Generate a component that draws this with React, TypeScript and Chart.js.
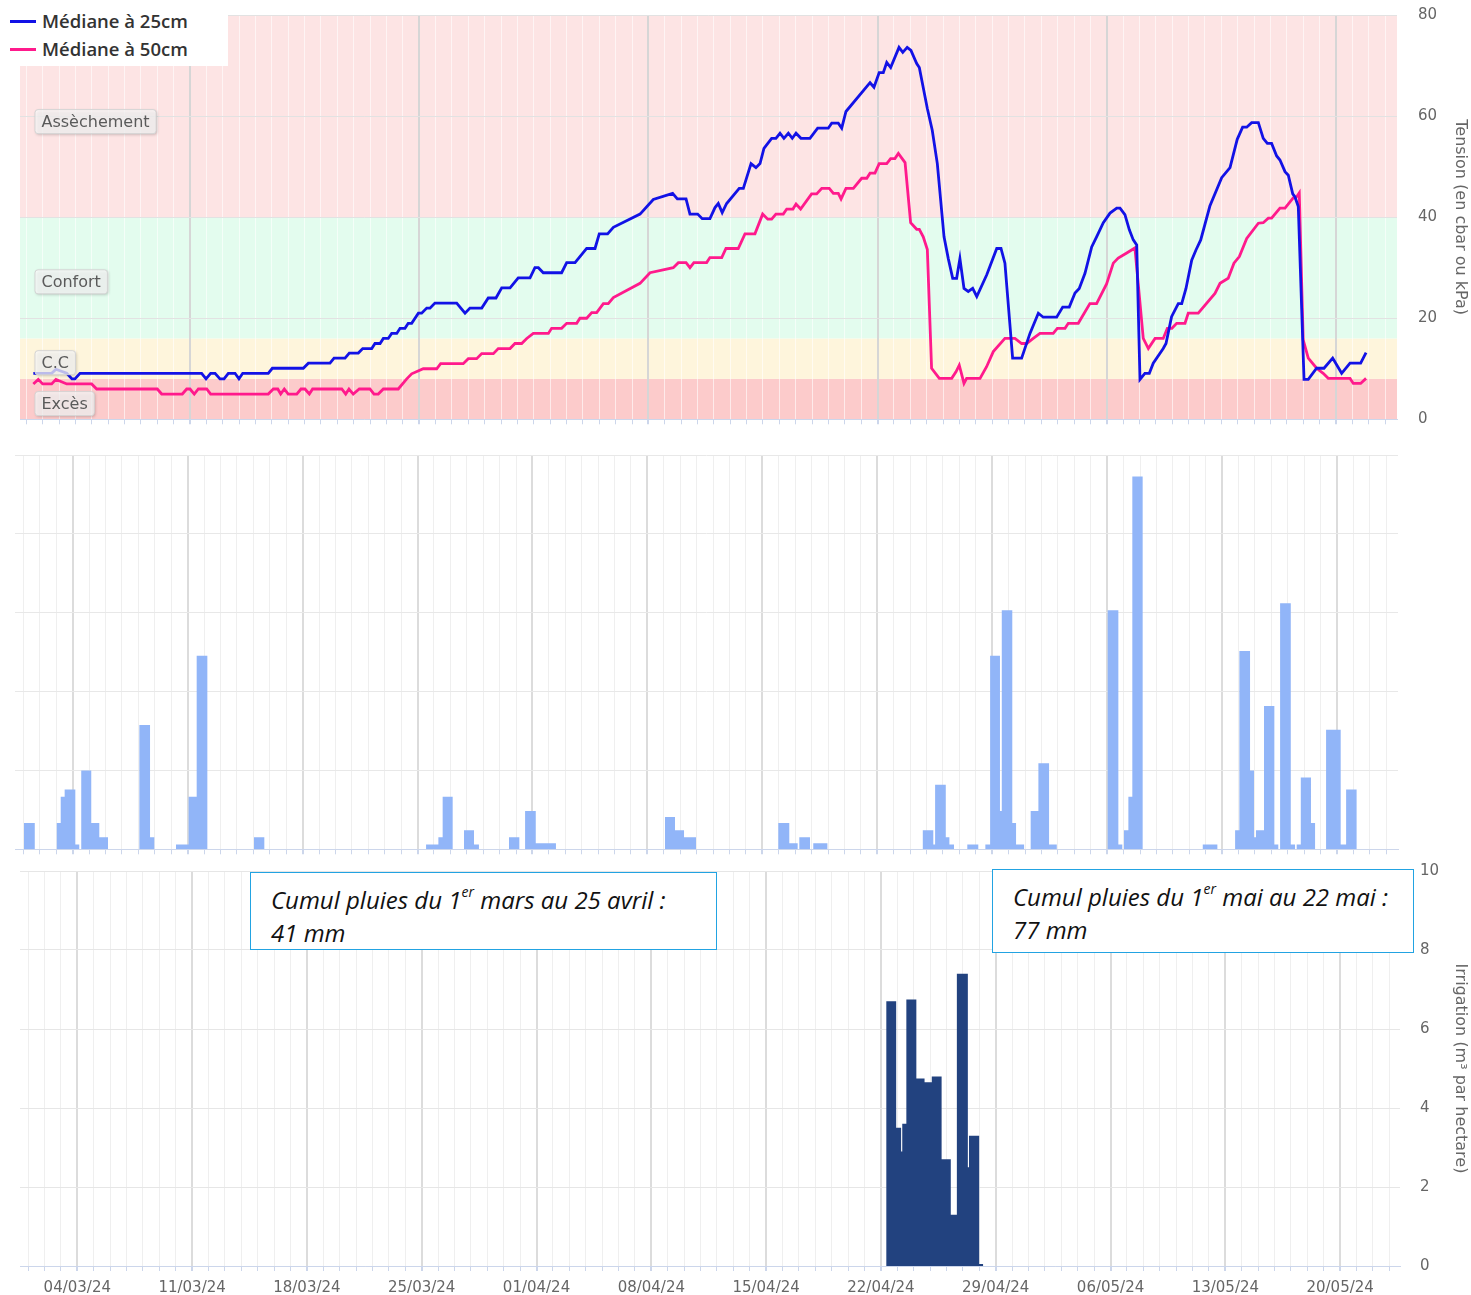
import React, { useEffect, useRef } from 'react';
import { Chart, registerables } from 'chart.js';

Chart.register(...registerables);

const FONT = "'DejaVu Sans', sans-serif";
Chart.defaults.font.family = FONT;

// ---------- x axis (days counted from 01/03/24 = day 0) ----------
const xLabelDays = [3, 10, 17, 24, 31, 38, 45, 52, 59, 66, 73, 80];
const xLabels = ['04/03/24', '11/03/24', '18/03/24', '25/03/24', '01/04/24', '08/04/24', '15/04/24', '22/04/24', '29/04/24', '06/05/24', '13/05/24', '20/05/24'];
const dayGrid = Array.from({ length: 84 }, (_, i) => i);

// ---------- tension zones ----------
const zoneBounds = [0, 8, 16, 40, 80];
const zoneNames = ['Excès', 'C.C', 'Confort', 'Assèchement'];
const zoneFill = ['#fccbcb', '#fef5dc', '#e3fcee', '#fde4e4'];

const tensionTicks = [0, 20, 40, 60, 80];
const irrigationTicks = [0, 2, 4, 6, 8, 10];
const rainGridMm = [0, 3.3, 6.6, 9.9, 13.2, 16.5];

// ---------- series: [day, tension] ----------
const median25cm = [
  [0.43, 9.1], [1.55, 9.1], [1.81, 9.9], [2.47, 9.1], [2.79, 8.0], [2.97, 8.0], [3.28, 9.1], [10.71, 9.1], [10.98, 8.0], [11.26, 9.1],
  [11.53, 9.1], [11.83, 8.0], [12.08, 8.0], [12.34, 9.1], [12.75, 9.1], [12.99, 8.0], [13.22, 9.1], [14.78, 9.1], [15.03, 10.1], [16.92, 10.1],
  [17.23, 11.1], [18.55, 11.1], [18.80, 12.1], [19.47, 12.1], [19.73, 13.1], [20.28, 13.1], [20.55, 14.0], [21.10, 14.0], [21.30, 15.0], [21.61, 15.0],
  [21.81, 16.0], [22.11, 16.0], [22.32, 17.0], [22.63, 17.0], [22.83, 18.0], [23.13, 18.0], [23.33, 19.0], [23.54, 19.0], [23.95, 21.0], [24.15, 21.0],
  [24.46, 22.0], [24.66, 22.0], [24.96, 23.0], [26.29, 23.0], [26.80, 21.0], [27.10, 22.0], [27.82, 22.0], [28.22, 24.0], [28.69, 24.0], [29.04, 26.0],
  [29.55, 26.0], [30.05, 28.0], [30.77, 28.0], [31.07, 30.0], [31.28, 30.0], [31.58, 29.0], [32.70, 29.0], [33.01, 31.0], [33.52, 31.0], [34.23, 33.8],
  [34.74, 33.8], [35.00, 36.7], [35.51, 36.7], [35.86, 38.0], [37.49, 40.6], [38.30, 43.5], [39.48, 44.7], [39.77, 43.6], [40.30, 43.6], [40.54, 40.6],
  [41.01, 40.6], [41.29, 39.7], [41.76, 39.7], [42.07, 41.9], [42.27, 42.7], [42.51, 40.9], [42.78, 42.7], [43.55, 45.7], [43.80, 45.7], [44.27, 50.6],
  [44.57, 49.8], [44.82, 50.6], [45.06, 53.6], [45.53, 55.6], [45.79, 55.6], [46.04, 56.6], [46.28, 55.6], [46.55, 56.6], [46.79, 55.6], [47.02, 56.6],
  [47.32, 55.6], [47.87, 55.6], [48.34, 57.6], [48.99, 57.6], [49.20, 58.6], [49.60, 58.6], [49.81, 57.6], [50.07, 60.9], [51.54, 66.6], [51.78, 65.7],
  [52.10, 68.6], [52.35, 68.6], [52.56, 70.6], [52.80, 69.6], [53.31, 73.6], [53.54, 72.6], [53.81, 73.6], [54.04, 73.0], [54.39, 70.4], [54.55, 69.6],
  [55.04, 61.5], [55.34, 57.2], [55.65, 50.6], [56.06, 36.1], [56.32, 31.8], [56.59, 27.9], [56.83, 27.9], [57.03, 31.8], [57.28, 25.9], [57.54, 25.3],
  [57.81, 25.9], [58.06, 24.3], [58.67, 28.6], [59.28, 33.8], [59.54, 33.8], [59.78, 30.9], [60.25, 12.1], [60.80, 12.1], [61.31, 17.0], [61.82, 21.0],
  [62.12, 20.2], [62.94, 20.2], [63.31, 22.2], [63.71, 22.2], [64.06, 25.0], [64.32, 25.9], [64.67, 28.9], [65.08, 34.1], [65.38, 36.1], [65.79, 38.9],
  [66.20, 40.8], [66.61, 41.8], [66.81, 41.8], [67.11, 40.5], [67.38, 37.5], [67.62, 35.5], [67.83, 34.5], [68.03, 7.9], [68.33, 9.1], [68.60, 9.1],
  [68.84, 11.1], [69.45, 14.0], [69.62, 15.0], [69.96, 20.3], [70.37, 22.9], [70.58, 22.9], [70.84, 25.9], [71.19, 31.5], [71.45, 33.5], [71.74, 35.5],
  [72.30, 42.2], [73.02, 47.8], [73.53, 49.8], [73.97, 55.4], [74.30, 57.8], [74.55, 57.8], [74.85, 58.7], [75.26, 58.7], [75.56, 55.6], [75.81, 54.6],
  [76.07, 54.6], [76.38, 52.1], [76.58, 51.3], [76.89, 49.0], [77.09, 48.3], [77.36, 44.6], [77.50, 44.0], [77.70, 42.1], [78.05, 7.9], [78.31, 7.9],
  [78.82, 10.1], [79.27, 10.1], [79.80, 12.1], [80.35, 9.1], [80.86, 11.1], [81.51, 11.1], [81.84, 13.2],
];

const median50cm = [
  [0.43, 7.0], [0.73, 7.9], [1.00, 7.0], [1.55, 7.0], [1.81, 7.9], [2.47, 7.0], [3.99, 7.0], [4.30, 6.0], [8.00, 6.0], [8.27, 5.0],
  [9.53, 5.0], [9.80, 6.0], [10.00, 6.0], [10.26, 5.0], [10.51, 6.0], [11.02, 6.0], [11.26, 5.0], [14.78, 5.0], [15.09, 6.0], [15.36, 6.0],
  [15.54, 5.0], [15.76, 6.0], [16.00, 5.0], [16.52, 5.0], [16.78, 6.0], [17.02, 6.0], [17.29, 5.0], [17.49, 6.0], [19.27, 6.0], [19.51, 5.0],
  [19.71, 6.0], [19.97, 5.0], [20.34, 6.0], [20.99, 6.0], [21.24, 5.0], [21.50, 5.0], [21.81, 6.0], [22.72, 6.0], [23.24, 8.0], [23.54, 9.0],
  [24.25, 10.0], [25.07, 10.0], [25.31, 11.0], [26.69, 11.0], [27.00, 12.0], [27.51, 12.0], [27.82, 13.0], [28.53, 13.0], [28.83, 14.0], [29.55, 14.0],
  [29.85, 15.0], [30.26, 15.0], [30.57, 16.0], [30.97, 17.0], [31.89, 17.0], [32.09, 18.0], [32.70, 18.0], [33.01, 19.0], [33.62, 19.0], [33.82, 20.0],
  [34.23, 20.0], [34.54, 21.1], [34.84, 21.1], [35.25, 22.9], [35.55, 22.9], [35.86, 24.1], [37.49, 26.9], [38.10, 29.0], [39.52, 30.0], [39.83, 31.0],
  [40.30, 31.0], [40.54, 30.0], [40.78, 31.0], [41.56, 31.0], [41.76, 32.0], [42.48, 32.0], [42.74, 33.8], [43.49, 33.8], [43.90, 36.7], [44.51, 36.7],
  [44.98, 40.6], [45.29, 39.6], [45.53, 39.6], [45.79, 40.6], [46.24, 40.6], [46.45, 41.6], [46.83, 41.6], [47.02, 42.6], [47.30, 41.6], [47.97, 44.6],
  [48.28, 44.6], [48.59, 45.7], [49.05, 45.7], [49.30, 44.7], [49.60, 44.7], [49.77, 43.6], [50.07, 45.7], [50.52, 45.7], [51.03, 47.7], [51.34, 47.7],
  [51.54, 48.7], [51.84, 48.7], [52.10, 50.6], [52.56, 50.6], [52.80, 51.6], [53.06, 51.6], [53.27, 52.6], [53.68, 50.8], [54.02, 38.9], [54.39, 37.6],
  [54.55, 37.6], [54.79, 36.1], [55.04, 33.6], [55.30, 10.1], [55.77, 8.1], [56.53, 8.1], [56.79, 9.4], [56.99, 10.7], [57.28, 7.1], [57.44, 8.1],
  [58.26, 8.1], [58.66, 10.4], [59.07, 13.4], [59.78, 16.0], [60.39, 16.0], [60.80, 15.0], [61.11, 15.0], [61.51, 16.0], [61.92, 17.0], [62.73, 17.0],
  [62.98, 18.0], [63.45, 18.0], [63.65, 19.0], [64.26, 19.0], [64.97, 22.9], [65.38, 22.9], [65.99, 26.8], [66.40, 30.9], [66.70, 31.9], [67.22, 32.9],
  [67.72, 33.9], [68.23, 16.0], [68.54, 14.0], [68.95, 16.0], [69.45, 16.0], [69.70, 18.0], [69.98, 18.0], [70.27, 19.0], [70.78, 19.0], [70.98, 21.0],
  [71.59, 21.0], [72.61, 24.9], [72.92, 26.9], [73.42, 27.9], [73.77, 30.9], [74.10, 32.2], [74.55, 35.8], [75.26, 38.8], [75.56, 38.9], [75.87, 39.8],
  [76.07, 39.8], [76.58, 41.8], [76.89, 41.8], [77.39, 43.8], [77.55, 43.8], [77.76, 44.8], [78.00, 15.7], [78.31, 12.1], [78.82, 10.1], [79.22, 9.1],
  [79.53, 8.1], [80.86, 8.1], [81.06, 7.1], [81.51, 7.1], [81.84, 8.1],
];

// ---------- rain: [start day, end day, mm] ----------
const rainMm = [
  [0.03, 0.69, 1.1], [2.03, 2.27, 1.1], [2.27, 2.51, 2.2], [2.51, 3.16, 2.5], [3.16, 3.40, 0.2], [3.52, 4.13, 3.3], [4.13, 4.62, 1.1], [4.62, 5.15, 0.5],
  [7.06, 7.71, 5.2], [7.71, 7.97, 0.5], [9.29, 10.06, 0.2], [10.06, 10.55, 2.2], [10.55, 11.20, 8.1], [14.04, 14.67, 0.5],
  [24.52, 25.27, 0.2], [25.27, 25.53, 0.5], [25.53, 26.14, 2.2], [26.83, 27.44, 0.8], [27.44, 27.74, 0.2],
  [29.57, 30.20, 0.5], [30.55, 31.20, 1.6], [31.20, 32.43, 0.25],
  [39.07, 39.68, 1.35], [39.68, 40.23, 0.8], [40.23, 40.96, 0.5],
  [45.97, 46.64, 1.1], [46.64, 47.15, 0.25], [47.25, 47.90, 0.5], [48.10, 48.96, 0.25],
  [54.77, 55.41, 0.8], [55.41, 55.52, 0.2], [55.52, 56.17, 2.7], [56.17, 56.39, 0.5], [56.39, 56.67, 0.2], [57.48, 58.15, 0.2],
  [58.58, 58.87, 0.2], [58.87, 59.47, 8.1], [59.47, 59.58, 1.6], [59.58, 60.22, 10.0], [60.22, 60.45, 1.1], [60.45, 60.94, 0.2],
  [61.34, 61.81, 1.6], [61.81, 62.46, 3.6], [62.46, 62.93, 0.2],
  [66.03, 66.68, 10.0], [66.68, 66.92, 0.2], [67.02, 67.29, 0.8], [67.29, 67.53, 2.2], [67.53, 68.16, 15.6], [71.82, 72.71, 0.2],
  [73.79, 74.05, 0.8], [74.05, 74.70, 8.3], [74.70, 74.94, 3.3], [74.94, 75.06, 0.5], [75.06, 75.55, 0.8], [75.55, 76.18, 6.0], [76.18, 76.42, 0.2],
  [76.53, 77.18, 10.3], [77.18, 77.44, 0.2], [77.54, 77.79, 0.2], [77.79, 78.41, 3.0], [78.41, 78.66, 1.1],
  [79.33, 80.22, 5.0], [80.22, 80.55, 0.2], [80.55, 81.20, 2.5],
];

// ---------- irrigation: [start day, end day, m3/ha] ----------
const irrigationM3 = [
  [52.32, 52.93, 6.7], [52.93, 53.23, 3.5], [53.23, 53.30, 2.9], [53.30, 53.55, 3.6], [53.55, 54.16, 6.75], [54.16, 54.66, 4.75],
  [54.66, 55.10, 4.65], [55.10, 55.70, 4.8], [55.70, 56.26, 2.7], [56.26, 56.63, 1.3], [56.63, 57.30, 7.4], [57.30, 57.37, 2.5],
  [57.37, 57.99, 3.3], [57.99, 58.24, 0.05],
];

const BLUE = '#1212e6';
const PINK = '#ff1a8c';
const RAIN = '#91b5f8';
const IRRIG = '#22427f';
const AXIS = '#ccd6eb';

function stepPoints(bars: number[][]) {
  const pts: { x: number; y: number }[] = [];
  bars.forEach((b, i) => {
    pts.push({ x: b[0], y: b[2] });
    const next = bars[i + 1];
    if (!next || next[0] - b[1] > 0.005) pts.push({ x: b[1], y: 0 });
  });
  return pts;
}

function noPad(s: any) {
  s.paddingTop = 0;
  s.paddingBottom = 0;
  s.paddingLeft = 0;
  s.paddingRight = 0;
}

function xAxis(min: number, max: number, isMajor: (d: number) => boolean, major: string, minor: string, height: number, labels: boolean) {
  const labelMap: Record<number, string> = {};
  xLabelDays.forEach((d, i) => (labelMap[d] = xLabels[i]));
  return {
    type: 'linear',
    min,
    max,
    afterBuildTicks: (s: any) => {
      s.ticks = dayGrid.map((v) => ({ value: v }));
    },
    afterFit: (s: any) => {
      s.height = height;
      noPad(s);
    },
    grid: {
      color: (c: any) => (c.tick && isMajor(c.tick.value) ? major : minor),
      lineWidth: (c: any) => (c.tick && isMajor(c.tick.value) ? 2 : 1),
      tickColor: AXIS,
      tickLength: 5,
      drawTicks: true,
    },
    border: { display: true, color: AXIS, width: 1 },
    ticks: labels
      ? {
          display: true,
          autoSkip: false,
          maxRotation: 0,
          padding: 8,
          color: '#666',
          font: { size: 15, family: FONT },
          callback: (v: any) => labelMap[v] ?? '',
        }
      : { display: false },
  };
}

const common = {
  animation: false,
  responsive: false,
  events: [],
  plugins: { legend: { display: false }, tooltip: { enabled: false } },
};

const zonePlugin = {
  id: 'zones',
  beforeDraw(chart: any) {
    const { ctx, chartArea: a } = chart;
    const y = chart.scales.y;
    ctx.save();
    zoneNames.forEach((_, i) => {
      const top = y.getPixelForValue(zoneBounds[i + 1]);
      const bot = y.getPixelForValue(zoneBounds[i]);
      ctx.fillStyle = zoneFill[i];
      ctx.fillRect(a.left, top, a.right - a.left, bot - top);
    });
    ctx.restore();
  },
  afterDraw(chart: any) {
    const { ctx, chartArea: a } = chart;
    const y = chart.scales.y;
    const labelCentres = [3.1, 11.2, 27.2, 58.9];
    ctx.save();
    ctx.font = `16px ${FONT}`;
    zoneNames.forEach((name, i) => {
      const cy = y.getPixelForValue(labelCentres[i]);
      const w = ctx.measureText(name).width + 13;
      const h = 24;
      const x = a.left + 15;
      const top = cy - h / 2;
      ctx.shadowColor = 'rgba(0,0,0,0.3)';
      ctx.shadowOffsetX = 1;
      ctx.shadowOffsetY = 1;
      ctx.shadowBlur = 3;
      ctx.fillStyle = 'rgba(255,255,255,0.72)';
      ctx.beginPath();
      ctx.roundRect(x, top, w, h, 3);
      ctx.fill();
      ctx.shadowColor = 'transparent';
      ctx.strokeStyle = '#d4d4d4';
      ctx.lineWidth = 1;
      ctx.stroke();
      ctx.fillStyle = '#5a5a5a';
      ctx.textBaseline = 'middle';
      ctx.fillText(name, x + 6.5, cy + 1);
    });
    ctx.restore();
  },
};

function rightAxis(min: number, max: number, ticks: number[], width: number, opts: any) {
  return {
    type: 'linear',
    position: 'right',
    min,
    max,
    afterBuildTicks: (s: any) => {
      s.ticks = ticks.map((v) => ({ value: v }));
    },
    afterFit: (s: any) => {
      s.width = width;
      noPad(s);
    },
    border: { display: false },
    ...opts,
  };
}

function topConfig(): any {
  return {
    type: 'line',
    data: {
      datasets: [
        { label: 'Médiane à 25cm', data: median25cm.map(([x, y]) => ({ x, y })), borderColor: BLUE, borderWidth: 2.8, pointRadius: 0, tension: 0, fill: false },
        { label: 'Médiane à 50cm', data: median50cm.map(([x, y]) => ({ x, y })), borderColor: PINK, borderWidth: 2.8, pointRadius: 0, tension: 0, fill: false },
      ],
    },
    options: {
      ...common,
      layout: { padding: { left: 20, top: 15, right: 0, bottom: 0 } },
      scales: {
        x: xAxis(-0.385, 83.73, (d) => (d - 10) % 14 === 0, '#d6d6d6', 'rgba(255,255,255,0.6)', 20.7, false),
        y: rightAxis(0, 80, tensionTicks, 74, {
          grid: { color: '#e2e2e2', drawTicks: false },
          ticks: { padding: 21, color: '#666', font: { size: 15, family: FONT } },
          title: { display: true, text: 'Tension (en cbar ou kPa)', color: '#666', font: { size: 16, family: FONT }, padding: { top: 1, bottom: 0 } },
        }),
      },
    },
    plugins: [zonePlugin],
  };
}

function midConfig(): any {
  return {
    type: 'line',
    data: {
      datasets: [
        { label: 'Pluie', data: stepPoints(rainMm), stepped: true, fill: 'origin', backgroundColor: RAIN, borderColor: 'rgba(0,0,0,0)', borderWidth: 0, pointRadius: 0 },
      ],
    },
    options: {
      ...common,
      layout: { padding: { left: 15, top: 15, right: 0, bottom: 0 } },
      scales: {
        x: xAxis(-0.514, 83.71, (d) => (d - 3) % 7 === 0, '#dcdcdc', '#efefef', 15.7, false),
        y: rightAxis(0, 16.5, rainGridMm, 73, {
          grid: { color: '#e8e8e8', drawTicks: false },
          ticks: { display: false },
        }),
      },
    },
  };
}

function botConfig(): any {
  return {
    type: 'line',
    data: {
      datasets: [
        { label: 'Irrigation', data: stepPoints(irrigationM3), stepped: true, fill: 'origin', backgroundColor: IRRIG, borderColor: 'rgba(0,0,0,0)', borderWidth: 0, pointRadius: 0 },
      ],
    },
    options: {
      ...common,
      layout: { padding: { left: 20, top: 16, right: 0, bottom: 0 } },
      scales: {
        x: xAxis(-0.494, 83.65, (d) => (d - 3) % 7 === 0, '#dcdcdc', '#efefef', 29, true),
        y: rightAxis(0, 10, irrigationTicks, 71, {
          grid: { color: '#e6e6e6', drawTicks: false },
          ticks: { padding: 20, color: '#666', font: { size: 15, family: FONT } },
          title: { display: true, text: 'Irrigation (m³ par hectare)', color: '#666', font: { size: 16, family: FONT }, padding: { top: 1, bottom: 0 } },
        }),
      },
    },
  };
}

const boxStyle: React.CSSProperties = {
  position: 'absolute',
  background: '#fff',
  border: '1.5px solid #22a3e2',
  boxSizing: 'border-box',
  fontFamily: "'Open Sans', sans-serif",
  fontStyle: 'italic',
  fontSize: 24,
  lineHeight: '33px',
  color: '#111',
  paddingLeft: 20,
  paddingTop: 10,
  whiteSpace: 'nowrap',
};

const supStyle: React.CSSProperties = { fontSize: 14, verticalAlign: 'top', lineHeight: '20px', position: 'relative', top: -1 };

export default function App() {
  const topRef = useRef<HTMLCanvasElement>(null);
  const midRef = useRef<HTMLCanvasElement>(null);
  const botRef = useRef<HTMLCanvasElement>(null);

  useEffect(() => {
    const charts = [
      new Chart(topRef.current as HTMLCanvasElement, topConfig()),
      new Chart(midRef.current as HTMLCanvasElement, midConfig()),
      new Chart(botRef.current as HTMLCanvasElement, botConfig()),
    ];
    return () => charts.forEach((c) => c.destroy());
  }, []);

  const legendText: React.CSSProperties = {
    position: 'absolute',
    left: 42,
    fontFamily: "'Open Sans', sans-serif",
    fontWeight: 600,
    fontSize: 18.5,
    lineHeight: '26px',
    color: '#333',
    whiteSpace: 'nowrap',
  };

  return (
    <div style={{ position: 'absolute', left: 0, top: 0, width: 1471, height: 1295, background: '#fff', overflow: 'hidden' }}>
      <canvas ref={topRef} width={1471} height={440} style={{ position: 'absolute', left: 0, top: 0, width: 1471, height: 440 }} />
      <canvas ref={midRef} width={1471} height={425} style={{ position: 'absolute', left: 0, top: 440, width: 1471, height: 425 }} />
      <canvas ref={botRef} width={1471} height={440} style={{ position: 'absolute', left: 0, top: 855, width: 1471, height: 440 }} />

      <div style={{ position: 'absolute', left: 0, top: 0, width: 228, height: 66, background: '#fff' }}>
        <div style={{ position: 'absolute', left: 10, top: 20, width: 26, height: 3, background: BLUE }} />
        <div style={{ ...legendText, top: 8 }}>Médiane à 25cm</div>
        <div style={{ position: 'absolute', left: 10, top: 48, width: 26, height: 3, background: PINK }} />
        <div style={{ ...legendText, top: 36 }}>Médiane à 50cm</div>
      </div>

      <div style={{ ...boxStyle, left: 250, top: 872, width: 467, height: 78 }}>
        Cumul pluies du 1<span style={supStyle}>er</span> mars au 25 avril :<br />41 mm
      </div>
      <div style={{ ...boxStyle, left: 992, top: 869, width: 422, height: 84 }}>
        Cumul pluies du 1<span style={supStyle}>er</span> mai au 22 mai :<br />77 mm
      </div>
    </div>
  );
}
